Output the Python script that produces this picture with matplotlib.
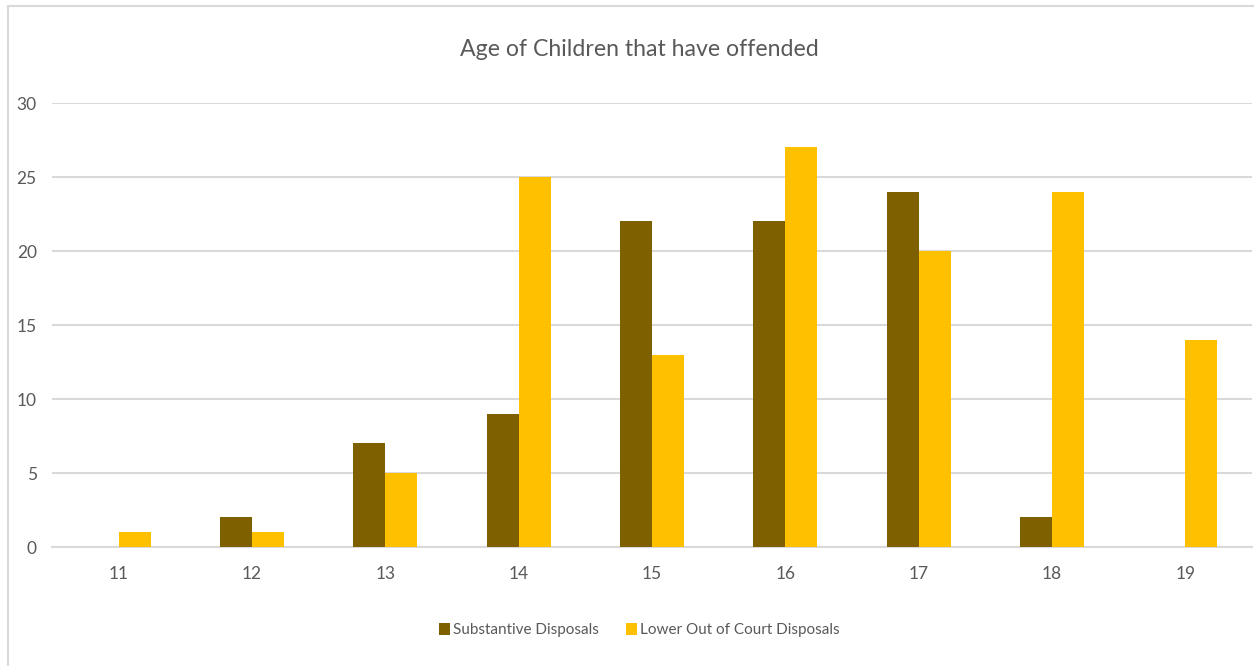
#------------------------------------------------------------------------------------------------------------------
#   Age of children that have offended - grouped bar chart
#------------------------------------------------------------------------------------------------------------------

import numpy as np
import matplotlib.pyplot as plt
from matplotlib.patches import Rectangle

#------------------------------------------------------------------------------------------------------------------
#   Data
#------------------------------------------------------------------------------------------------------------------
ages = ['11', '12', '13', '14', '15', '16', '17', '18', '19']
substantive = [0, 2, 7, 9, 22, 22, 24, 2, 0]
lower_ooc = [1, 1, 5, 25, 13, 27, 20, 24, 14]

series_names = ['Substantive Disposals', 'Lower Out of Court Disposals']
y_ticks = [0, 5, 10, 15, 20, 25, 30]

#------------------------------------------------------------------------------------------------------------------
#   Figure
#------------------------------------------------------------------------------------------------------------------
plt.rcParams['font.family'] = ['Lato', 'DejaVu Sans']
text_grey = '#595959'
grid_grey = '#D9D9D9'

fig = plt.figure(figsize=(12.54, 6.66), dpi=100)
ax = fig.add_axes([52/1254, 1 - 547/666, 1200/1254, (547 - 103)/666])

# chart area border (cut off on the right and bottom)
fig.patches.append(Rectangle((8/1254, -0.1), 1.1, 1 - 6/666 + 0.1, transform=fig.transFigure,
                             fill=False, edgecolor=grid_grey, linewidth=1.5))

x = np.arange(len(ages))
width = 0.24
ax.bar(x - width/2, substantive, width, color='#7F6000', label=series_names[0], zorder=3)
ax.bar(x + width/2, lower_ooc, width, color='#FFC000', label=series_names[1], zorder=3)

ax.set_xlim(-0.5, len(ages) - 0.5)
ax.set_ylim(0, 30)
ax.set_xticks(x)
ax.set_xticklabels(ages)
ax.set_yticks(y_ticks)
ax.yaxis.grid(True, color=grid_grey, linewidth=1.5, zorder=0)
ax.tick_params(axis='both', length=0, labelsize=12.5, labelcolor=text_grey)
ax.tick_params(axis='x', pad=14)
ax.tick_params(axis='y', pad=11)
for side in ['top', 'right', 'left']:
    ax.spines[side].set_visible(False)
ax.spines['bottom'].set_color(grid_grey)
ax.spines['bottom'].set_linewidth(1.5)

fig.text(0.51, 1 - 50/666, 'Age of Children that have offended', ha='center', va='center',
         fontsize=16.7, color=text_grey)

fig.legend(loc='center', bbox_to_anchor=(0.51, 1 - 630/666), ncol=2, frameon=False,
           fontsize=11, labelcolor=text_grey, handlelength=0.7, handleheight=0.8,
           handletextpad=0.2, columnspacing=1.8)

fig.savefig('out.png', dpi=100)
